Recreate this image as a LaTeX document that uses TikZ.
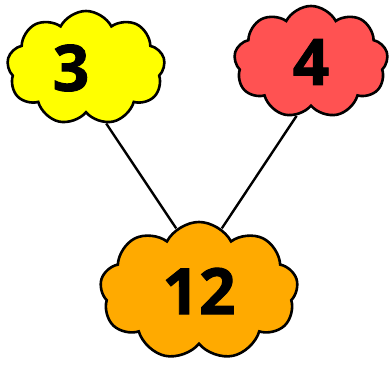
\documentclass[tikz,border=0pt]{standalone}
\usepackage{fontspec}
\setmainfont{Open Sans}[BoldFeatures={FakeBold=1.5}]
\usetikzlibrary{shapes.symbols,backgrounds}

\definecolor{numyellow}{HTML}{FFFF00}
\definecolor{numred}{HTML}{FF5252}
\definecolor{numorange}{HTML}{FFAA00}

\tikzset{
  numcloud/.style={cloud, cloud puffs=9, cloud puff arc=125, draw=black,
    line width=2.6pt, font=\fontsize{64}{64}\selectfont\bfseries},
  link/.style={line width=2.4pt}
}

\begin{document}
\begin{tikzpicture}[x=1pt,y=1pt]
    \useasboundingbox (0,0) rectangle (392,367);

    % factors
    \node[numcloud, fill=numyellow, minimum width=158pt, minimum height=114pt]
        (three) at (86,299) {\hspace*{-15pt}3\hspace*{15pt}};
    \node[numcloud, fill=numred, minimum width=154pt, minimum height=112pt]
        (four) at (311,305) {4};

    % product
    \node[numcloud, fill=numorange, minimum width=198pt, minimum height=138pt]
        (twelve) at (199,76) {12};

    % links
    \begin{scope}[on background layer]
        \draw[link] (three.-70) -- (twelve.110);
        \draw[link] (four.-105) -- (twelve.70);
    \end{scope}
\end{tikzpicture}
\end{document}
